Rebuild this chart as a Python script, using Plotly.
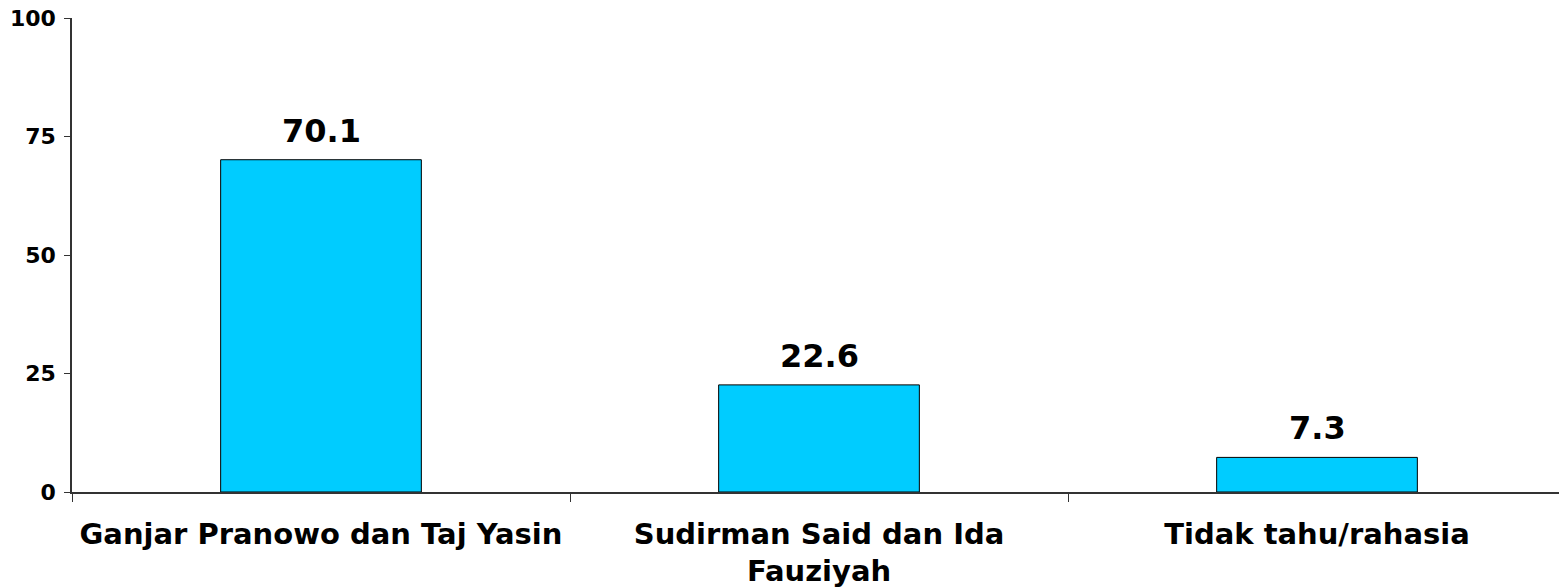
import plotly.graph_objects as go

categories = ["Ganjar Pranowo dan Taj Yasin", "Sudirman Said dan Ida<br>Fauziyah", "Tidak tahu/rahasia"]
values = [70.1, 22.6, 7.3]
value_labels = ["70.1", "22.6", "7.3"]
y_ticks = [0, 25, 50, 75, 100]

FONT = "Verdana, DejaVu Sans, sans-serif"

fig = go.Figure(go.Bar(
    x=categories, y=values,
    marker=dict(color="#00CCFF", line=dict(color="black", width=1)),
))

for c, v, t in zip(categories, values, value_labels):
    fig.add_annotation(x=c, y=v, text=t, showarrow=False, yanchor="bottom", yshift=8,
                       font=dict(family=FONT, size=32, color="black", weight="bold"))

fig.update_layout(
    width=1566, height=587,
    margin=dict(l=72, r=0, t=18, b=95),
    paper_bgcolor="white", plot_bgcolor="white",
    bargap=0.597, showlegend=False,
    font=dict(family=FONT, color="black"),
)
fig.update_xaxes(
    showline=True, linecolor="#333", linewidth=1.5, automargin=False,
    ticks="outside", tickson="boundaries", ticklen=8, tickcolor="#333",
    tickfont=dict(family=FONT, size=29, color="black", weight="bold"),
    ticklabelstandoff=15, ticklabeloverflow="allow",
    showgrid=False,
)
fig.update_yaxes(
    range=[0, 100], tickvals=y_ticks, showline=True, linecolor="#333", linewidth=1.5,
    automargin=False,
    ticks="outside", ticklen=6, tickcolor="#333",
    tickfont=dict(family=FONT, size=22, color="black", weight="bold"),
    ticklabelstandoff=4, ticklabeloverflow="allow",
    showgrid=False, zeroline=False,
)

fig.write_html(
    "out.html",
    config={"displayModeBar": False},
    post_script="document.body.style.margin='0';document.body.style.overflow='hidden';",
)
